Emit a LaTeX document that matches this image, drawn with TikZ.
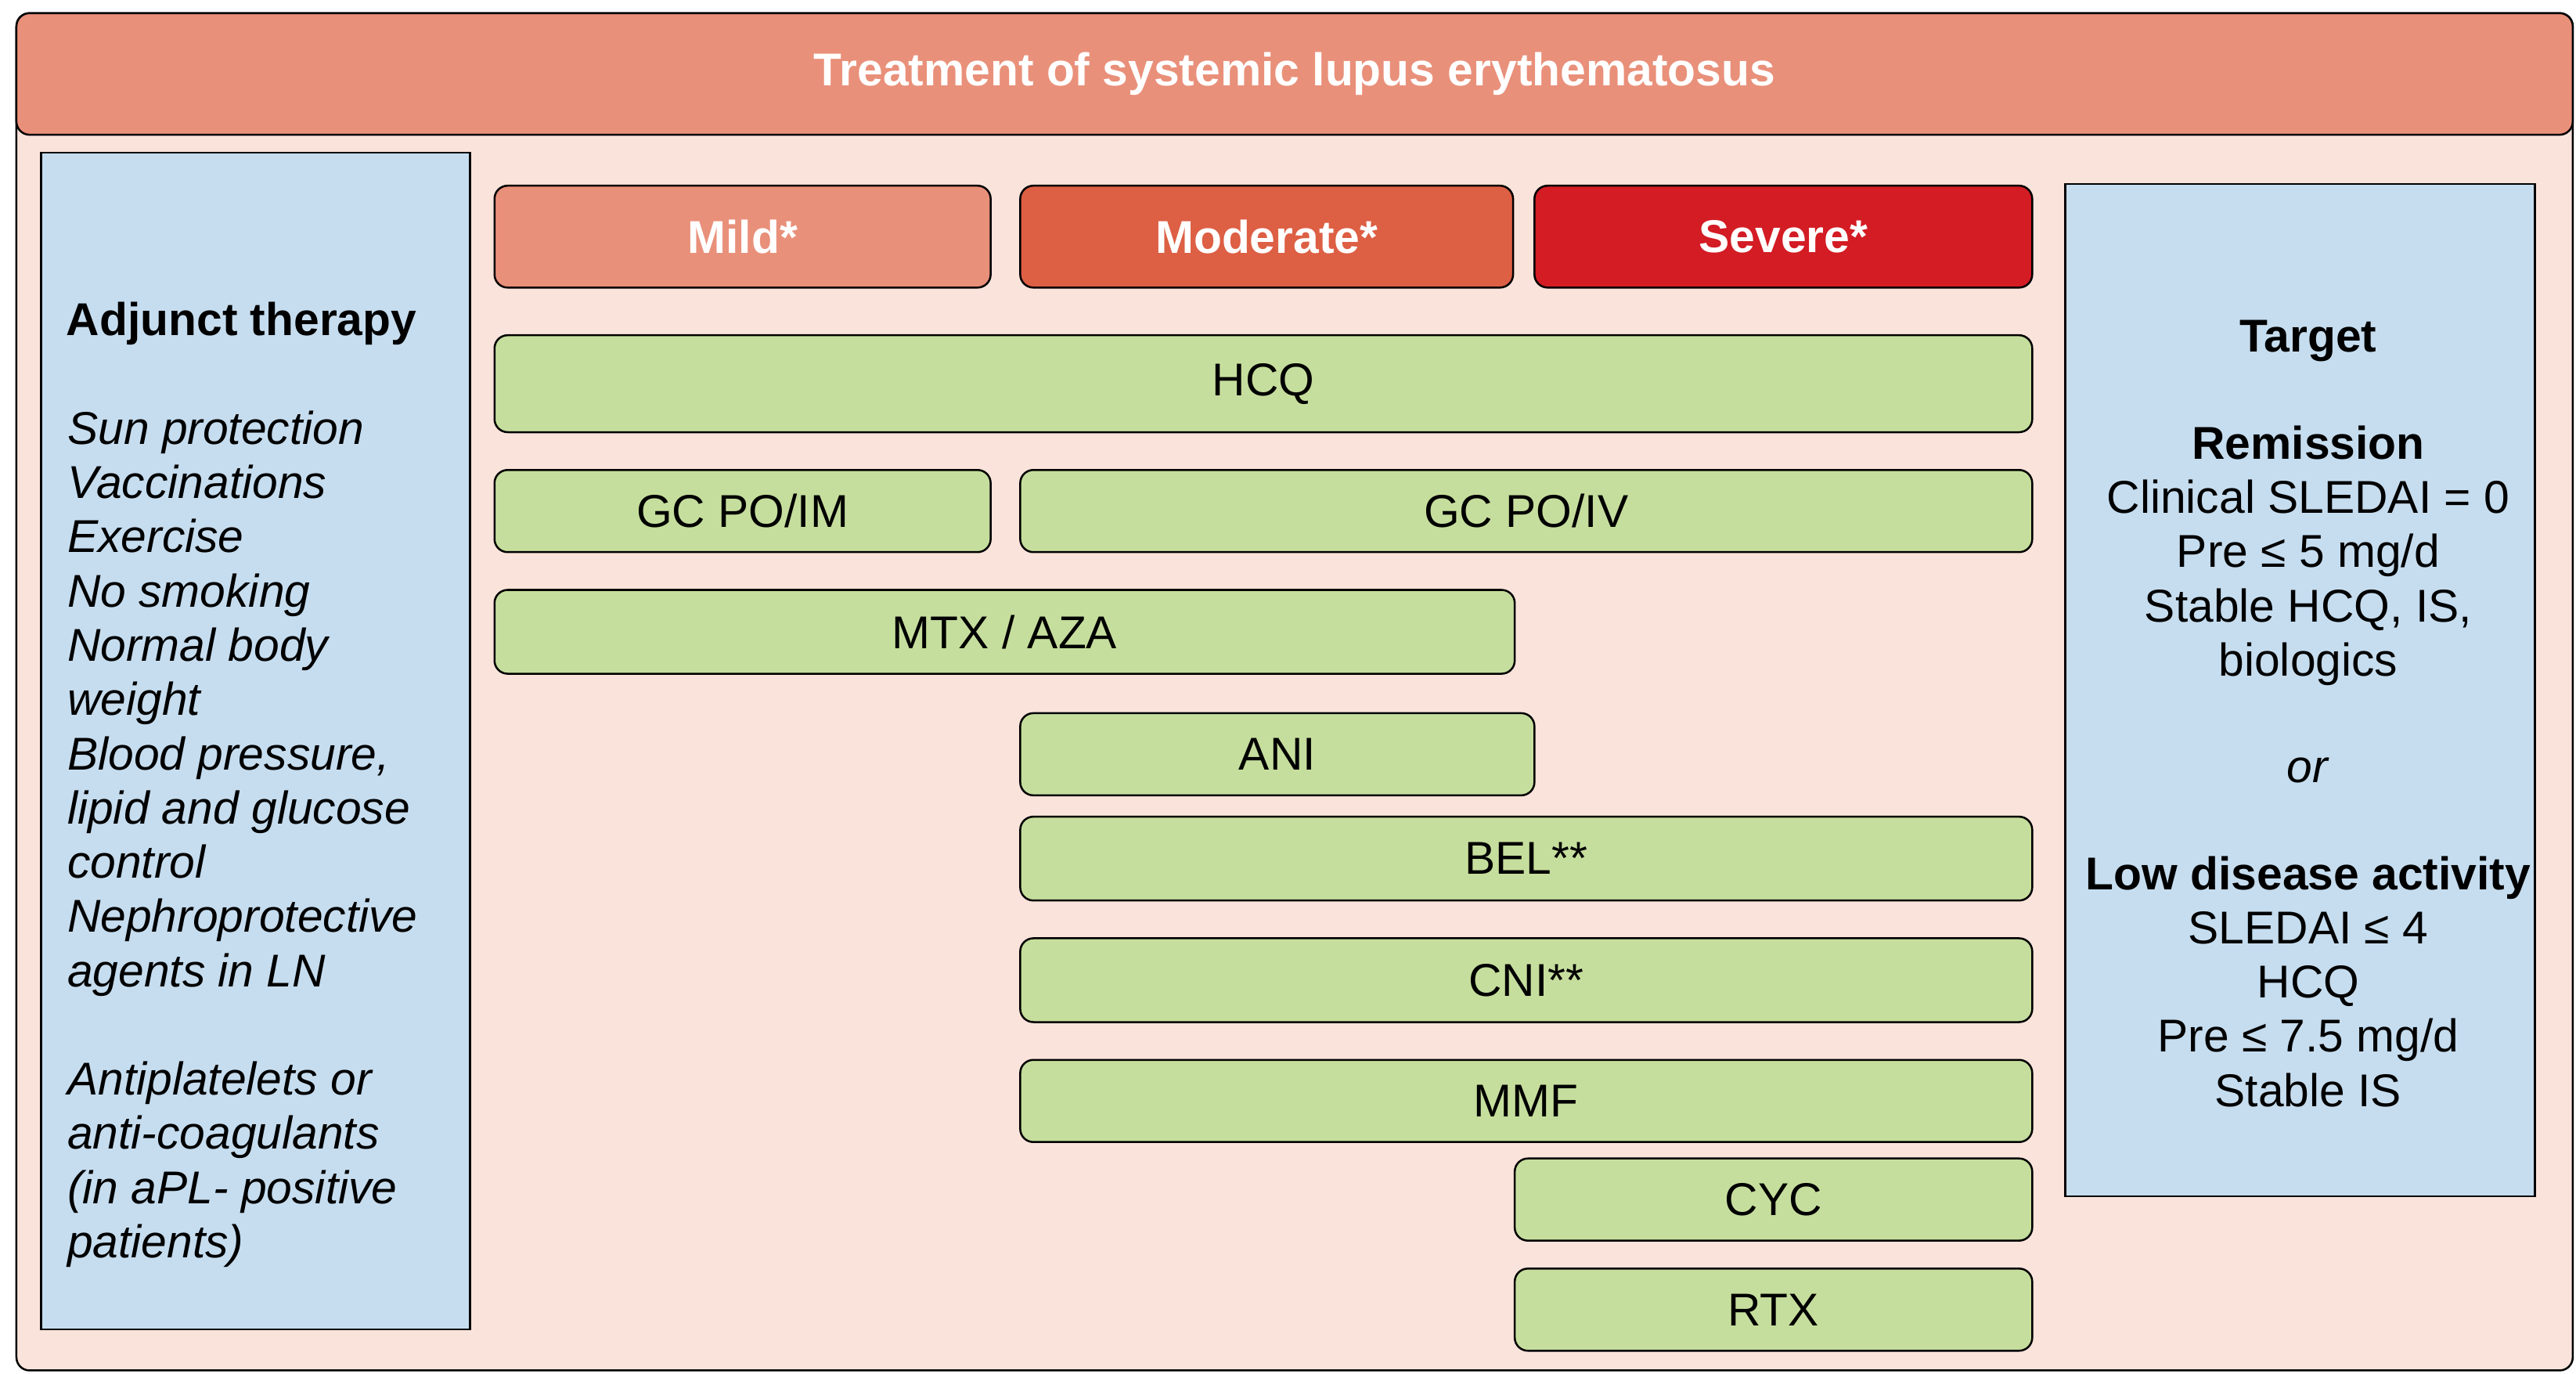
\documentclass[tikz,border=0pt]{standalone}
\usepackage{fontspec}
\setmainfont{Liberation Sans}
\usetikzlibrary{positioning}
\definecolor{salmon}{HTML}{E9907A}
\definecolor{moder}{HTML}{DD5F44}
\definecolor{sever}{HTML}{D31C24}
\definecolor{peach}{HTML}{FAE3DA}
\definecolor{paleblue}{HTML}{C6DDEF}
\definecolor{drug}{HTML}{C6DE9D}
\begin{document}
\begin{tikzpicture}[x=0.5pt,y=-0.5pt,font=\fontsize{14}{16.5}\selectfont]
	\tikzstyle{bar}=[draw=black,fill=drug,rounded corners=4pt,line width=0.6pt,inner sep=0pt]
	\tikzstyle{sev}=[bar,text=white,font=\fontsize{14}{16.5}\selectfont\bfseries]
	\tikzstyle{panel}=[draw=black,fill=paleblue,line width=0.6pt]
	% x1, y1, x2, y2 in picture units
	\newcommand{\barbox}[7]{%
		\pgfmathsetmacro{\cx}{(#3+#5)/2}\pgfmathsetmacro{\cy}{(#4+#6)/2}%
		\pgfmathsetmacro{\bw}{(#5-#3)*0.5}\pgfmathsetmacro{\bh}{(#6-#4)*0.5}%
		\node[#1,minimum width=\bw pt,minimum height=\bh pt] (#2) at (\cx,\cy) {#7};}
	\useasboundingbox (0,0) rectangle (1568,836);
	% frame and title
	\draw[fill=peach,line width=0.6pt,rounded corners=4pt] (10,8) rectangle (1566,834);
	\barbox{sev,fill=salmon}{title}{10}{8}{1566}{82}{Treatment of systemic lupus erythematosus}
	% side panels
	\barbox{panel}{adjunct}{25}{93}{286}{809}{}
	\barbox{panel}{target}{1257}{112}{1543}{728}{}
	\node[font=\fontsize{14}{16.5}\selectfont\bfseries] (adjtitle) at (147,197) {Adjunct therapy};
	\node[anchor=north west,align=left,font=\fontsize{14}{16.5}\selectfont\itshape] (adjtext) at (34,243)
		{Sun protection\\Vaccinations\\Exercise\\No smoking\\Normal body\\weight\\Blood pressure,\\lipid and glucose\\control\\Nephroprotective\\agents in LN\\[16.5pt]Antiplatelets or\\anti-coagulants\\(in aPL- positive\\patients)};
	\node[align=center,anchor=north,font=\fontsize{14}{16.5}\selectfont] (tgttext) at (1405,188)
		{\textbf{Target}\\[16pt]\textbf{Remission}\\Clinical SLEDAI = 0\\Pre ≤ 5 mg/d\\Stable HCQ, IS,\\biologics\\[16pt]\textit{or}\\[16pt]\textbf{Low disease activity}\\SLEDAI ≤ 4\\HCQ\\Pre ≤ 7.5 mg/d\\Stable IS};
	% severity
	\barbox{sev,fill=salmon}{mild}{301}{113}{603}{175}{Mild*}
	\barbox{sev,fill=moder}{moderate}{621}{113}{921}{175}{Moderate*}
	\barbox{sev,fill=sever}{severe}{934}{113}{1237}{175}{Severe*}
	% drugs
	\barbox{bar}{hcq}{301}{204}{1237}{263}{HCQ}
	\barbox{bar}{gcim}{301}{286}{603}{336}{GC PO/IM}
	\barbox{bar}{gciv}{621}{286}{1237}{336}{GC PO/IV}
	\barbox{bar}{mtx}{301}{359}{922}{410}{MTX / AZA}
	\barbox{bar}{ani}{621}{434}{934}{484}{ANI}
	\barbox{bar}{bel}{621}{497}{1237}{548}{BEL**}
	\barbox{bar}{cni}{621}{571}{1237}{622}{CNI**}
	\barbox{bar}{mmf}{621}{645}{1237}{695}{MMF}
	\barbox{bar}{cyc}{922}{705}{1237}{755}{CYC}
	\barbox{bar}{rtx}{922}{772}{1237}{822}{RTX}
\end{tikzpicture}
\end{document}
